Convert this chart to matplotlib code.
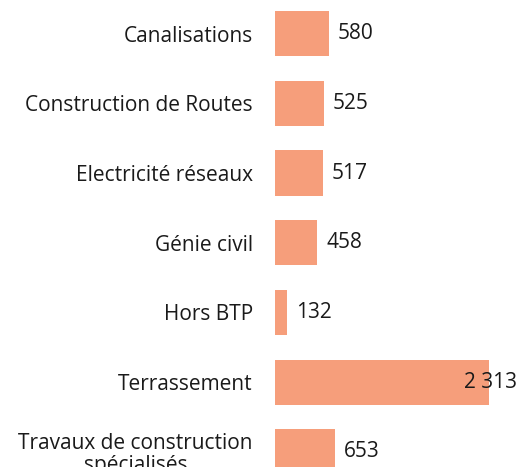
import matplotlib
matplotlib.use("Agg")
import matplotlib.pyplot as plt

categories = ["Canalisations", "Construction de Routes", "Electricité réseaux",
              "Génie civil", "Hors BTP", "Terrassement",
              "Travaux de construction\nspécialisés"]
values = [580, 525, 517, 458, 132, 2313, 653]

W, H = 521, 467
fig = plt.figure(figsize=(W / 100, H / 100), dpi=100)
plt.rcParams['font.family'] = ['Open Sans', 'DejaVu Sans']

left_px = 275
ax = fig.add_axes([left_px / W, 0, 1 - left_px / W, 1])
px_per_unit = (488.7 - 275) / 2313
xmax = (W - left_px) / px_per_unit
step = 69.7
top_c = 33.7
ax.set_xlim(0, xmax)
ax.set_ylim((H - top_c) / step, -top_c / step)

FS = 15
y = list(range(len(categories)))
ax.barh(y, values, height=0.65, color='#F69E7B')
ax.set_yticks(y)
ax.set_yticklabels(categories, fontsize=FS, color='#1a1a1a')
for lab in ax.get_yticklabels():
    lab.set_multialignment('center')
    lab.set_linespacing(1.05)
ax.tick_params(axis='y', length=0, pad=16)
ax.set_xticks([])
for s in ax.spines.values():
    s.set_visible(False)

fig.canvas.draw()
renderer = fig.canvas.get_renderer()
off = 9 / px_per_unit
for yi, v in zip(y, values):
    txt = f"{v:,}".replace(",", " ")
    t = ax.text(v + off, yi, txt, va='center', ha='left', fontsize=FS, color='#1a1a1a')
    bb = t.get_window_extent(renderer)
    if bb.x1 > W - 3:
        t.set_ha('right')
        t.set_x(xmax - 4 / px_per_unit)

fig.savefig("out.png", dpi=100)
